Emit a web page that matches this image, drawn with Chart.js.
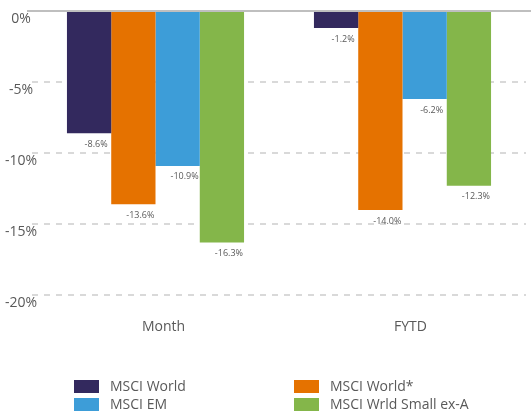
<!DOCTYPE html>
<html>
<head>
<meta charset="utf-8">
<script src="https://cdn.jsdelivr.net/npm/chart.js@4"></script>
<style>
  html, body { margin: 0; padding: 0; background: #fff; }
  #wrap { position: relative; width: 531px; height: 414px; }
</style>
</head>
<body>
<div id="wrap"><canvas id="theChart"></canvas></div>
<script>
const categories = ["Month", "FYTD"];
const seriesNames = ["MSCI World", "MSCI World*", "MSCI EM", "MSCI Wrld Small ex-A"];
const worldValues = [-8.6, -1.2];
const worldStarValues = [-13.6, -14.0];
const emValues = [-10.9, -6.2];
const smallValues = [-16.3, -12.3];
const yTicks = [0, -5, -10, -15, -20];

const colorPalette = ["#33295e", "#e57200", "#3d9dd8", "#84b64a"];
const textGray = "#595959";

Chart.defaults.font.family = "'Open Sans', sans-serif";

const allValues = [worldValues, worldStarValues, emValues, smallValues];
const datasets = seriesNames.map((name, i) => ({
  label: name,
  data: allValues[i],
  backgroundColor: colorPalette[i],
  borderWidth: 0,
  categoryPercentage: 0.717,
  barPercentage: 1.0,
}));

// value labels under each bar end
const barLabels = {
  id: "barLabels",
  afterDatasetsDraw(chart) {
    const ctx = chart.ctx;
    ctx.save();
    ctx.font = "9px 'Open Sans', sans-serif";
    ctx.fillStyle = textGray;
    ctx.textAlign = "center";
    ctx.textBaseline = "middle";
    chart.data.datasets.forEach((ds, i) => {
      chart.getDatasetMeta(i).data.forEach((bar, j) => {
        ctx.fillText(ds.data[j].toFixed(1) + "%", bar.x + 7, bar.y + 11);
      });
    });
    ctx.restore();
  },
};

// solid zero line across the top
const zeroLine = {
  id: "zeroLine",
  afterDatasetsDraw(chart) {
    const { ctx, chartArea, scales } = chart;
    const y = scales.y.getPixelForValue(0);
    ctx.save();
    ctx.strokeStyle = "#bfbfbf";
    ctx.lineWidth = 2;
    ctx.beginPath();
    ctx.moveTo(chartArea.left - 5, y);
    ctx.lineTo(chartArea.right + 5, y);
    ctx.stroke();
    ctx.restore();
  },
};

// two-column legend at the bottom
const gridLegend = {
  id: "gridLegend",
  afterDraw(chart) {
    const ctx = chart.ctx;
    const colX = [74, 294];
    const rowY = [380, 398];
    ctx.save();
    ctx.font = "14px 'Open Sans', sans-serif";
    ctx.textBaseline = "middle";
    ctx.textAlign = "left";
    chart.data.datasets.forEach((ds, i) => {
      const x = colX[i % 2];
      const y = rowY[Math.floor(i / 2)];
      ctx.fillStyle = ds.backgroundColor;
      ctx.fillRect(x, y, 25, 13);
      ctx.fillStyle = textGray;
      ctx.fillText(ds.label, x + 36, y + 7);
    });
    ctx.restore();
  },
};

const chartArea = document.getElementById("theChart");
const myChart = new Chart(chartArea, {
  type: "bar",
  data: { labels: categories, datasets },
  plugins: [barLabels, zeroLine, gridLegend],
  options: {
    responsive: true,
    maintainAspectRatio: false,
    animation: false,
    layout: { padding: { top: 11, right: 5, bottom: 64, left: 0 } },
    plugins: {
      legend: { display: false },
      tooltip: { enabled: false },
    },
    scales: {
      x: {
        grid: { display: false },
        border: { display: false },
        ticks: {
          color: textGray,
          font: { size: 14 },
          padding: 15,
          labelOffset: 8,
        },
      },
      y: {
        min: -20,
        max: 0,
        afterFit(scale) {
          scale.width = 32;
        },
        afterBuildTicks(scale) {
          scale.ticks = yTicks.map((v) => ({ value: v }));
        },
        grid: {
          color: (c) => (c.tick && c.tick.value === 0 ? "rgba(0,0,0,0)" : "#d9d9d9"),
          lineWidth: 2,
          drawTicks: false,
        },
        border: { display: false, dash: [6, 6] },
        ticks: {
          color: textGray,
          font: { size: 14 },
          mirror: true,
          crossAlign: "center",
          padding: -27,
          labelOffset: 8,
          callback: (v) => v + "%",
        },
      },
    },
  },
});
</script>
</body>
</html>
